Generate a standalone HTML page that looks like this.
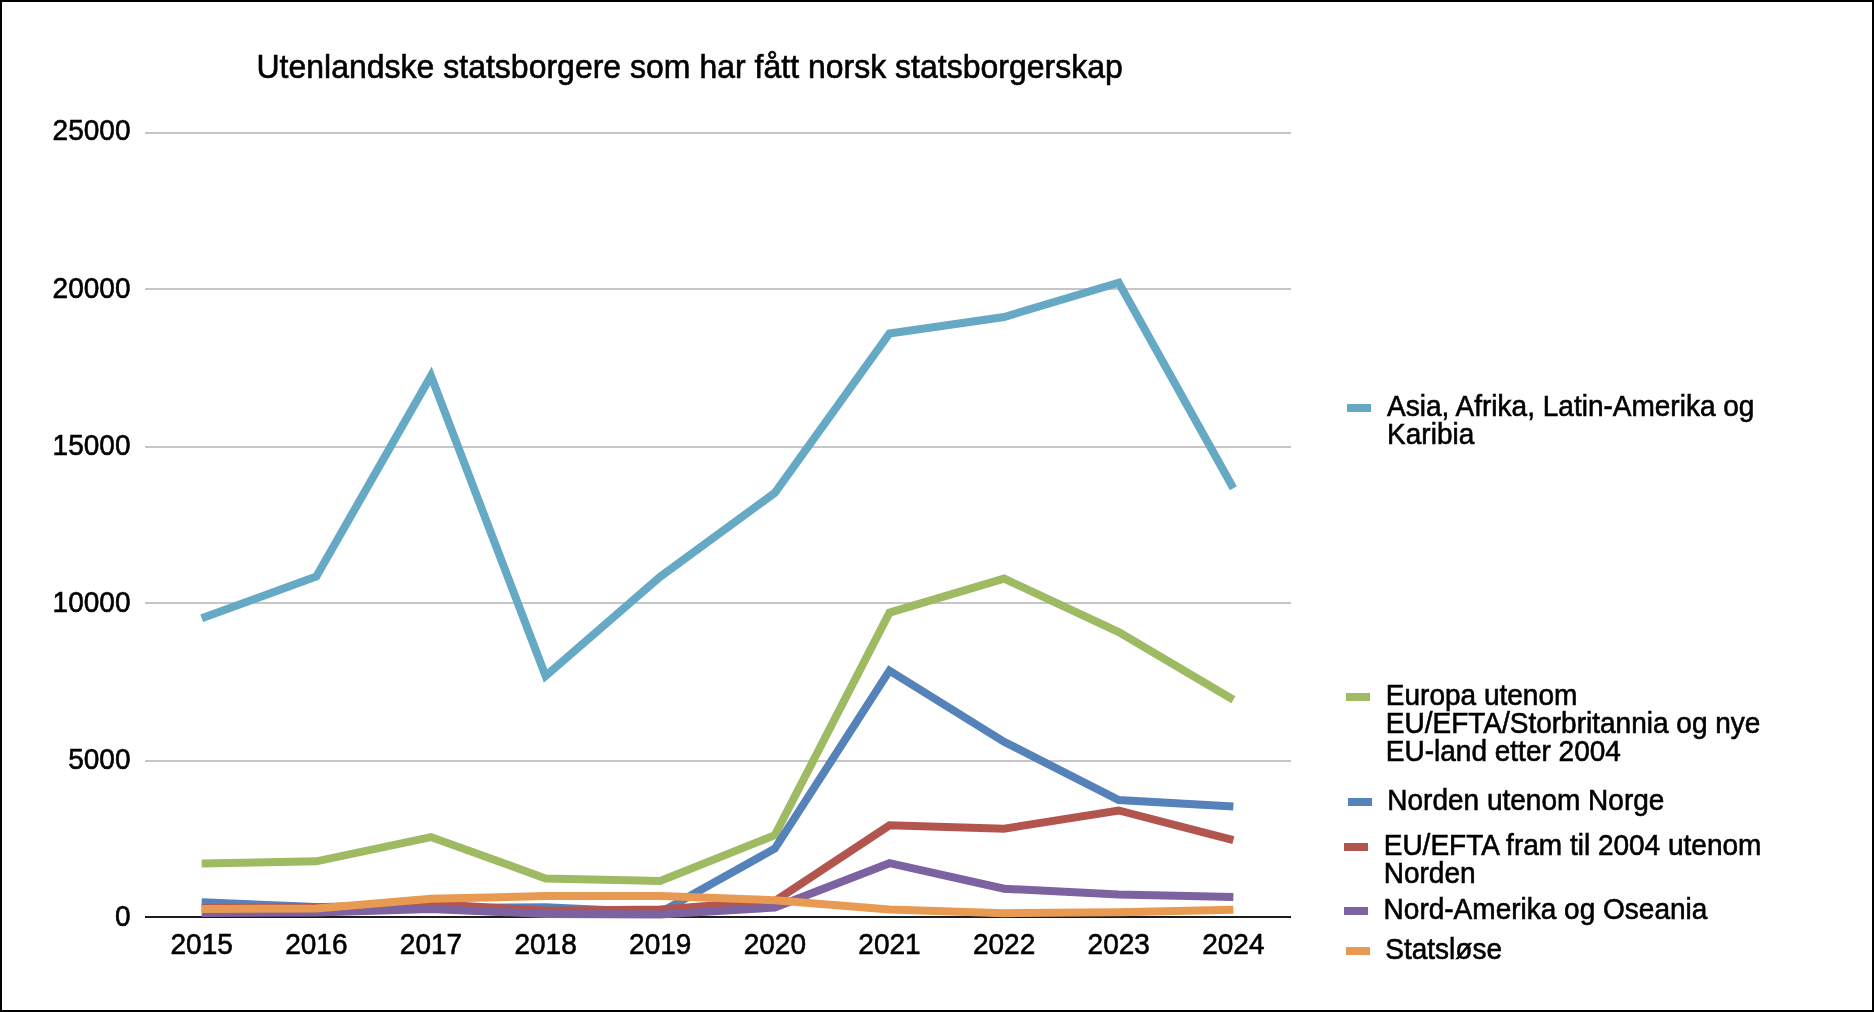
<!DOCTYPE html>
<html><head><meta charset="utf-8">
<style>
html,body{margin:0;padding:0;background:#fff;}
body{width:1874px;height:1012px;overflow:hidden;position:relative;}
#frame{position:absolute;left:0;top:0;width:1874px;height:1012px;box-sizing:border-box;border:2px solid #000;}
svg{position:absolute;left:0;top:0;will-change:transform;}
text{font-family:"Liberation Sans",sans-serif;fill:#000;stroke:#000;stroke-width:0.6px;}
</style></head><body>
<svg width="1874" height="1012" viewBox="0 0 1874 1012">
<g transform="translate(256.50,77.80) scale(0.97,1)"><text x="0" y="0" font-size="33">Utenlandske statsborgere som har fått norsk statsborgerskap</text></g>
<rect x="145" y="132" width="1146" height="2" fill="#C6C6C6"/>
<rect x="145" y="288" width="1146" height="2" fill="#C6C6C6"/>
<rect x="145" y="446" width="1146" height="2" fill="#C6C6C6"/>
<rect x="145" y="602" width="1146" height="2" fill="#C6C6C6"/>
<rect x="145" y="760" width="1146" height="2" fill="#C6C6C6"/>
<rect x="145" y="916" width="1146" height="2" fill="#1C1C1C"/>
<g transform="translate(130.50,139.90) scale(0.966,1)"><text x="0" y="0" font-size="29" text-anchor="end">25000</text></g>
<g transform="translate(130.50,297.90) scale(0.966,1)"><text x="0" y="0" font-size="29" text-anchor="end">20000</text></g>
<g transform="translate(130.50,454.90) scale(0.966,1)"><text x="0" y="0" font-size="29" text-anchor="end">15000</text></g>
<g transform="translate(130.50,611.90) scale(0.966,1)"><text x="0" y="0" font-size="29" text-anchor="end">10000</text></g>
<g transform="translate(130.50,768.90) scale(0.966,1)"><text x="0" y="0" font-size="29" text-anchor="end">5000</text></g>
<g transform="translate(130.50,925.90) scale(0.966,1)"><text x="0" y="0" font-size="29" text-anchor="end">0</text></g>
<g transform="translate(201.70,953.90) scale(0.966,1)"><text x="0" y="0" font-size="29" text-anchor="middle">2015</text></g>
<g transform="translate(316.33,953.90) scale(0.966,1)"><text x="0" y="0" font-size="29" text-anchor="middle">2016</text></g>
<g transform="translate(430.96,953.90) scale(0.966,1)"><text x="0" y="0" font-size="29" text-anchor="middle">2017</text></g>
<g transform="translate(545.59,953.90) scale(0.966,1)"><text x="0" y="0" font-size="29" text-anchor="middle">2018</text></g>
<g transform="translate(660.22,953.90) scale(0.966,1)"><text x="0" y="0" font-size="29" text-anchor="middle">2019</text></g>
<g transform="translate(774.85,953.90) scale(0.966,1)"><text x="0" y="0" font-size="29" text-anchor="middle">2020</text></g>
<g transform="translate(889.48,953.90) scale(0.966,1)"><text x="0" y="0" font-size="29" text-anchor="middle">2021</text></g>
<g transform="translate(1004.11,953.90) scale(0.966,1)"><text x="0" y="0" font-size="29" text-anchor="middle">2022</text></g>
<g transform="translate(1118.74,953.90) scale(0.966,1)"><text x="0" y="0" font-size="29" text-anchor="middle">2023</text></g>
<g transform="translate(1233.37,953.90) scale(0.966,1)"><text x="0" y="0" font-size="29" text-anchor="middle">2024</text></g>
<polyline points="201.70,618.3 316.33,576.5 430.96,375.9 545.59,675.9 660.22,576.7 774.85,492.8 889.48,333.5 1004.11,317 1118.74,282.7 1233.37,488.2" fill="none" stroke="#65A9C5" stroke-width="8" stroke-linejoin="miter" stroke-miterlimit="10" stroke-linecap="butt"/>
<polyline points="201.70,863.5 316.33,861.3 430.96,837.1 545.59,878.4 660.22,880.9 774.85,835.2 889.48,612.7 1004.11,578.6 1118.74,632 1233.37,699.7" fill="none" stroke="#9EBA63" stroke-width="8" stroke-linejoin="miter" stroke-miterlimit="10" stroke-linecap="butt"/>
<polyline points="201.70,902.3 316.33,907 430.96,908 545.59,907.3 660.22,912.5 774.85,848.6 889.48,670.7 1004.11,741.8 1118.74,800 1233.37,806.6" fill="none" stroke="#5682BA" stroke-width="8" stroke-linejoin="miter" stroke-miterlimit="10" stroke-linecap="butt"/>
<polyline points="201.70,908.2 316.33,907.2 430.96,904 545.59,910.8 660.22,909.5 774.85,901 889.48,825.3 1004.11,828.7 1118.74,810.5 1233.37,840.2" fill="none" stroke="#B3554F" stroke-width="8" stroke-linejoin="miter" stroke-miterlimit="10" stroke-linecap="butt"/>
<polyline points="201.70,913 316.33,912.6 430.96,909 545.59,914 660.22,914.5 774.85,907.5 889.48,863.2 1004.11,888.7 1118.74,894.4 1233.37,897" fill="none" stroke="#7C62A0" stroke-width="8" stroke-linejoin="miter" stroke-miterlimit="10" stroke-linecap="butt"/>
<polyline points="201.70,909 316.33,908.5 430.96,898.8 545.59,896.1 660.22,896 774.85,900.2 889.48,909.4 1004.11,913.2 1118.74,912.3 1233.37,909.8" fill="none" stroke="#E99A52" stroke-width="8" stroke-linejoin="miter" stroke-miterlimit="10" stroke-linecap="butt"/>
<rect x="1347" y="404" width="24" height="8" fill="#65A9C5"/>
<g transform="translate(1387.10,415.80) scale(0.966,1)"><text x="0" y="0" font-size="29">Asia, Afrika, Latin-Amerika og</text></g>
<g transform="translate(1387.10,443.90) scale(0.966,1)"><text x="0" y="0" font-size="29">Karibia</text></g>
<rect x="1346" y="693" width="24" height="8" fill="#9EBA63"/>
<g transform="translate(1385.80,704.90) scale(0.966,1)"><text x="0" y="0" font-size="29">Europa utenom</text></g>
<g transform="translate(1385.80,733.00) scale(0.966,1)"><text x="0" y="0" font-size="29">EU/EFTA/Storbritannia og nye</text></g>
<g transform="translate(1385.80,761.10) scale(0.966,1)"><text x="0" y="0" font-size="29">EU-land etter 2004</text></g>
<rect x="1348" y="798" width="24" height="8" fill="#5682BA"/>
<g transform="translate(1387.30,809.90) scale(0.966,1)"><text x="0" y="0" font-size="29">Norden utenom Norge</text></g>
<rect x="1344" y="843" width="24" height="8" fill="#B3554F"/>
<g transform="translate(1383.70,854.60) scale(0.966,1)"><text x="0" y="0" font-size="29">EU/EFTA fram til 2004 utenom</text></g>
<g transform="translate(1383.70,882.70) scale(0.966,1)"><text x="0" y="0" font-size="29">Norden</text></g>
<rect x="1344" y="907" width="24" height="8" fill="#7C62A0"/>
<g transform="translate(1383.60,918.85) scale(0.966,1)"><text x="0" y="0" font-size="29">Nord-Amerika og Oseania</text></g>
<rect x="1346" y="947" width="24" height="8" fill="#E99A52"/>
<g transform="translate(1385.30,959.20) scale(0.966,1)"><text x="0" y="0" font-size="29">Statsløse</text></g>
</svg>
<div id="frame"></div>
</body></html>
